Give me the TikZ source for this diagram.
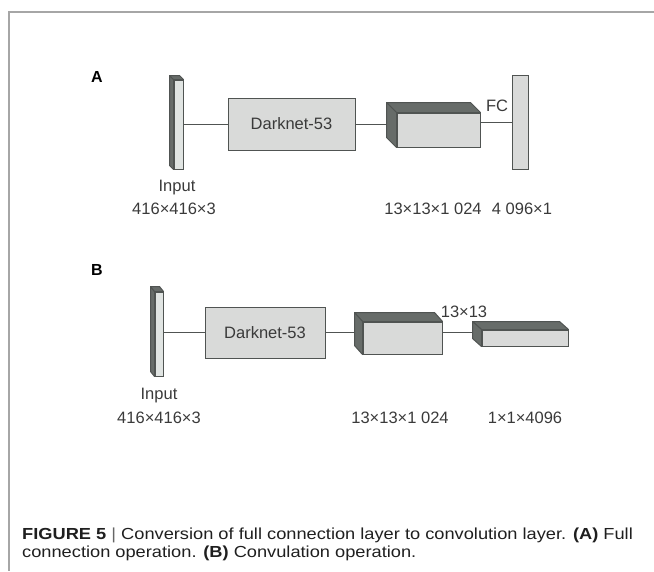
\documentclass[tikz,border=0pt]{standalone}
\usepackage{fontspec}
\setmainfont{Liberation Sans}
\newfontfamily\capfont[FakeStretch=1.14]{Liberation Sans}
\definecolor{edgegray}{HTML}{505452}
\definecolor{facegray}{HTML}{D9DAD9}
\definecolor{slabface}{HTML}{E0E4E2}
\definecolor{sidegray}{HTML}{676C69}
\definecolor{labelgray}{HTML}{3A3A3A}
\definecolor{framegray}{HTML}{A6A6A6}
\begin{document}
\begin{tikzpicture}[x=1pt,y=-1pt,
  face/.style={draw=edgegray,fill=facegray,line width=1pt,inner sep=0pt},
  slab/.style={face,fill=slabface},
  side/.style={draw=edgegray,fill=sidegray,line width=1pt,line join=round},
  link/.style={draw=edgegray,line width=0.8pt},
  lbl/.style={text=labelgray,font=\fontsize{16.5}{18}\selectfont,inner sep=0pt},
  tag/.style={font=\fontsize{16}{18}\selectfont\bfseries,inner sep=0pt},
  capline/.style={anchor=west,text=black!88,font=\capfont\fontsize{16}{18}\selectfont,inner sep=0pt}]
\useasboundingbox (0,0) rectangle (654,571);
% frame
\draw[framegray,line width=1.2pt] (654,12) -- (9,12) -- (9,571);
% panel A
\coordinate (InA) at (178.5,124.5);
\coordinate (DkA) at (291.5,124);
\coordinate (CbA) at (438.5,130);
\coordinate (FcA) at (520,122);
\node[tag] (tagA) at (97,77) {A};
\node[slab,minimum width=9pt,minimum height=89pt] (inA) at (InA) {};
\fill[sidegray,draw=edgegray,line width=1pt,line join=round] (inA.north west) -- ++(-4,-4) -- ([shift={(-4,-4)}]inA.south west) -- (inA.south west) -- cycle;
\fill[sidegray,draw=edgegray,line width=1pt,line join=round] (inA.north west) -- ++(-4,-4) -- ([shift={(-4,-4)}]inA.north east) -- (inA.north east) -- cycle;
\node[face,minimum width=127pt,minimum height=52pt] (dkA) at (DkA) {};
\node[lbl] at (dkA) {Darknet-53};
\node[face,minimum width=83pt,minimum height=34pt] (cbA) at (CbA) {};
\draw[side] (cbA.north west) -- ++(-10,-10) -- ([shift={(-10,-10)}]cbA.north east) -- (cbA.north east) -- cycle;
\draw[side] (cbA.north west) -- ++(-10,-10) -- ([shift={(-10,-10)}]cbA.south west) -- (cbA.south west) -- cycle;
\node[face,minimum width=16pt,minimum height=94pt] (fcA) at (FcA) {};
\draw[link] (inA.east |- dkA.west) -- (dkA.west);
\draw[link] (dkA.east) -- ([xshift=-10pt]cbA.west |- dkA.east);
\draw[link] (fcA.west -| cbA.east) -- (fcA.west);
\node[lbl] (fcl) at (497,106) {FC};
\node[lbl] (inlA) at (177,188) {Input};
\node[lbl] (szinA) at (174,209) {416×416×3};
\node[lbl] (szcbA) at (433,209) {13×13×1~024};
\node[lbl] (szfcA) at (522,209) {4~096×1};
% panel B
\coordinate (InB) at (159,334);
\coordinate (DkB) at (265,332.5);
\coordinate (CbB) at (402.5,338);
\coordinate (SmB) at (525,338);
\node[tag] (tagB) at (97,270) {B};
\node[slab,minimum width=8pt,minimum height=84pt] (inB) at (InB) {};
\fill[sidegray,draw=edgegray,line width=1pt,line join=round] (inB.north west) -- ++(-4,-5) -- ([shift={(-4,-5)}]inB.south west) -- (inB.south west) -- cycle;
\fill[sidegray,draw=edgegray,line width=1pt,line join=round] (inB.north west) -- ++(-4,-5) -- ([shift={(-4,-5)}]inB.north east) -- (inB.north east) -- cycle;
\node[face,minimum width=120pt,minimum height=51pt] (dkB) at (DkB) {};
\node[lbl] at (dkB) {Darknet-53};
\node[face,minimum width=79pt,minimum height=32pt] (cbB) at (CbB) {};
\draw[side] (cbB.north west) -- ++(-8,-9) -- ([shift={(-8,-9)}]cbB.north east) -- (cbB.north east) -- cycle;
\draw[side] (cbB.north west) -- ++(-8,-9) -- ([shift={(-8,-9)}]cbB.south west) -- (cbB.south west) -- cycle;
\node[face,minimum width=86pt,minimum height=16pt] (smB) at (SmB) {};
\draw[side] (smB.north west) -- ++(-9,-8) -- ([shift={(-9,-8)}]smB.north east) -- (smB.north east) -- cycle;
\draw[side] (smB.north west) -- ++(-9,-8) -- ([shift={(-9,-8)}]smB.south west) -- (smB.south west) -- cycle;
\draw[link] (inB.east |- dkB.west) -- (dkB.west);
\draw[link] (dkB.east) -- ([xshift=-8pt]cbB.west |- dkB.east);
\draw[link] (cbB.east |- dkB.east) -- ([xshift=-9pt]smB.west |- dkB.east);
\node[lbl] (mapl) at (464,312) {13×13};
\node[lbl] (inlB) at (159,396) {Input};
\node[lbl] (szinB) at (159,418) {416×416×3};
\node[lbl] (szcbB) at (400,418) {13×13×1~024};
\node[lbl] (szsmB) at (525,418) {1×1×4096};
% caption
\node[capline] (cap1) at (22,535) {\textbf{FIGURE 5} {\color{black!60}|} Conversion of full connection layer to convolution layer. \textbf{(A)} Full};
\node[capline] (cap2) at (22,553) {connection operation. \textbf{(B)} Convulation operation.};
\end{tikzpicture}
\end{document}
